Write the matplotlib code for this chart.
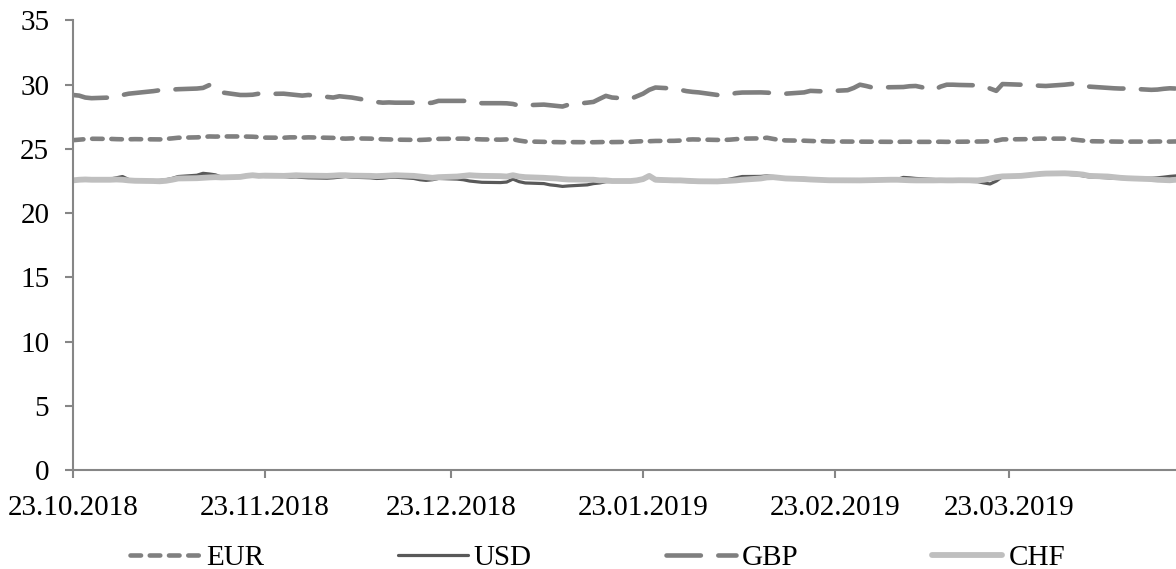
import matplotlib
matplotlib.use("Agg")
import matplotlib.pyplot as plt
import matplotlib.dates as mdates
import pandas as pd

plt.rcParams['font.family'] = ['Liberation Serif', 'DejaVu Serif']

# business days 23.10.2018 - 19.04.2019
dates = pd.bdate_range('2018-10-23', '2019-04-19')

eur = [25.68, 25.72, 25.76, 25.79,
       25.78, 25.76, 25.75, 25.75, 25.76,
       25.75, 25.74, 25.78, 25.82, 25.87,
       25.90, 25.93, 25.97, 25.96, 25.97,
       25.97, 25.96, 25.95, 25.92, 25.88,
       25.87, 25.90, 25.90, 25.88, 25.90,
       25.87, 25.86, 25.82, 25.80, 25.82,
       25.80, 25.78, 25.75, 25.74, 25.72,
       25.70, 25.70, 25.72, 25.75, 25.78,
       25.80, 25.80, 25.78, 25.76, 25.74,
       25.72, 25.74, 25.75, 25.65, 25.58,
       25.55, 25.53, 25.53, 25.52, 25.53,
       25.52, 25.52, 25.53, 25.54, 25.53,
       25.55, 25.58, 25.60, 25.60, 25.62,
       25.63, 25.65, 25.72, 25.74, 25.73,
       25.70, 25.70, 25.72, 25.76, 25.80,
       25.82, 25.87, 25.78, 25.70, 25.66,
       25.64, 25.62, 25.60, 25.60, 25.58,
       25.57, 25.56, 25.56, 25.56, 25.55,
       25.55, 25.55, 25.56, 25.56, 25.55,
       25.55, 25.56, 25.55, 25.56, 25.56,
       25.57, 25.58, 25.60, 25.64, 25.74,
       25.75, 25.76, 25.78, 25.80, 25.80,
       25.80, 25.75, 25.70, 25.65, 25.60,
       25.58, 25.57, 25.57, 25.56, 25.57,
       25.57, 25.58, 25.57, 25.57, 25.58]

usd = [22.55, 22.60, 22.65, 22.62,
       22.65, 22.75, 22.85, 22.62, 22.55,
       22.52, 22.55, 22.60, 22.70, 22.85,
       22.95, 23.10, 23.05, 22.98, 22.80,
       22.80, 22.90, 22.95, 22.90, 22.85,
       22.85, 22.80, 22.82, 22.78, 22.75,
       22.72, 22.75, 22.80, 22.85, 22.80,
       22.75, 22.70, 22.72, 22.78, 22.80,
       22.70, 22.60, 22.55, 22.60, 22.70,
       22.65, 22.60, 22.50, 22.45, 22.40,
       22.38, 22.42, 22.65, 22.45, 22.35,
       22.30, 22.20, 22.15, 22.08, 22.12,
       22.20, 22.30, 22.35, 22.45, 22.47,
       22.50, 22.55, 22.60, 22.85, 22.55,
       22.50, 22.48, 22.47, 22.45, 22.45,
       22.48, 22.55, 22.65, 22.75, 22.85,
       22.86, 22.90, 22.85, 22.78, 22.72,
       22.70, 22.68, 22.62, 22.60, 22.58,
       22.56, 22.56, 22.55, 22.56, 22.58,
       22.60, 22.62, 22.78, 22.75, 22.70,
       22.62, 22.58, 22.55, 22.52, 22.50,
       22.45, 22.35, 22.27, 22.50, 22.85,
       22.90, 22.92, 22.95, 23.00, 23.05,
       23.05, 23.00, 22.98, 22.90, 22.82,
       22.75, 22.72, 22.70, 22.68, 22.70,
       22.72, 22.75, 22.80, 22.86, 22.90]

gbp = [29.20, 29.15, 29.00, 28.95,
       29.00, 29.05, 29.20, 29.30, 29.35,
       29.50, 29.57, 29.60, 29.62, 29.65,
       29.70, 29.75, 29.97, 29.85, 29.40,
       29.20, 29.20, 29.22, 29.30, 29.28,
       29.30, 29.25, 29.20, 29.15, 29.20,
       29.05, 29.00, 29.10, 29.05, 29.00,
       28.75, 28.65, 28.60, 28.62, 28.60,
       28.60, 28.58, 28.55, 28.60, 28.74,
       28.74, 28.74, 28.72, 28.60, 28.56,
       28.56, 28.55, 28.50, 28.37, 28.40,
       28.45, 28.40, 28.35, 28.30, 28.45,
       28.60, 28.66, 28.90, 29.13, 29.00,
       28.90, 29.10, 29.30, 29.60, 29.78,
       29.70, 29.60, 29.50, 29.44, 29.40,
       29.20, 29.18, 29.25, 29.35, 29.39,
       29.40, 29.38, 29.35, 29.33, 29.30,
       29.40, 29.52, 29.50, 29.48, 29.50,
       29.57, 29.75, 30.00, 29.90, 29.78,
       29.80, 29.80, 29.82, 29.88, 29.90,
       29.60, 29.85, 30.00, 30.00, 29.98,
       29.95, 29.90, 29.70, 29.52, 30.05,
       30.00, 30.00, 29.95, 29.92, 29.90,
       30.00, 30.05, 30.10, 29.95, 29.85,
       29.75, 29.72, 29.70, 29.70, 29.68,
       29.60, 29.62, 29.68, 29.72, 29.70]

chf = [22.55, 22.60, 22.62, 22.60,
       22.60, 22.62, 22.60, 22.55, 22.52,
       22.50, 22.48, 22.52, 22.60, 22.70,
       22.72, 22.75, 22.78, 22.80, 22.78,
       22.82, 22.90, 22.95, 22.90, 22.92,
       22.90, 22.92, 22.95, 22.93, 22.92,
       22.90, 22.92, 22.95, 22.95, 22.92,
       22.90, 22.88, 22.90, 22.92, 22.95,
       22.90, 22.85, 22.80, 22.75, 22.80,
       22.85, 22.90, 22.95, 22.92, 22.90,
       22.88, 22.85, 22.95, 22.85, 22.80,
       22.75, 22.72, 22.70, 22.65, 22.62,
       22.60, 22.60, 22.55, 22.55, 22.50,
       22.50, 22.55, 22.65, 22.90, 22.60,
       22.55, 22.55, 22.52, 22.50, 22.48,
       22.47, 22.50, 22.52, 22.55, 22.60,
       22.70, 22.78, 22.80, 22.75, 22.70,
       22.65, 22.62, 22.60, 22.58, 22.56,
       22.55, 22.55, 22.55, 22.56, 22.57,
       22.60, 22.60, 22.58, 22.56, 22.55,
       22.55, 22.56, 22.55, 22.55, 22.56,
       22.55, 22.60, 22.70, 22.80, 22.86,
       22.90, 22.95, 23.00, 23.05, 23.08,
       23.10, 23.08, 23.05, 23.00, 22.90,
       22.85, 22.80, 22.75, 22.72, 22.70,
       22.65, 22.60, 22.58, 22.56, 22.60]

tick_dates = ['2018-10-23', '2018-11-23', '2018-12-23',
              '2019-01-23', '2019-02-23', '2019-03-23']

axis_color = '#868686'

fig = plt.figure(figsize=(11.76, 5.69), dpi=100)
ax = fig.add_axes([0.062, 0.174, 0.938, 0.79])

ax.plot(dates, eur, color='#808080', lw=3.3, ls=(0, (2.3, 1.9)),
        dash_capstyle='round', label='EUR')
ax.plot(dates, usd, color='#595959', lw=2.3, solid_capstyle='round', label='USD')
ax.plot(dates, gbp, color='#7f7f7f', lw=3.3, ls=(0, (7.5, 3.8)),
        dash_capstyle='round', label='GBP')
ax.plot(dates, chf, color='#bfbfbf', lw=4.2, solid_capstyle='round', label='CHF')

ax.set_ylim(0, 35)
ax.set_yticks(range(0, 36, 5))
ax.set_xlim(dates[0], dates[-1])
ax.set_xticks(pd.to_datetime(tick_dates))
ax.xaxis.set_major_formatter(mdates.DateFormatter('%d.%m.%Y'))

for s in ['top', 'right']:
    ax.spines[s].set_visible(False)
for s in ['left', 'bottom']:
    ax.spines[s].set_color(axis_color)
    ax.spines[s].set_linewidth(1.5)
ax.tick_params(axis='both', colors=axis_color, width=1.5, length=6,
               labelsize=21, labelcolor='black')
ax.tick_params(axis='y', pad=11)
ax.tick_params(axis='x', pad=12)

fig.legend(loc='lower center', bbox_to_anchor=(0.508, -0.05), ncol=4,
           frameon=False, fontsize=21, handlelength=2.4, handletextpad=0.2,
           columnspacing=4.6)

fig.savefig('out.png', dpi=100)
